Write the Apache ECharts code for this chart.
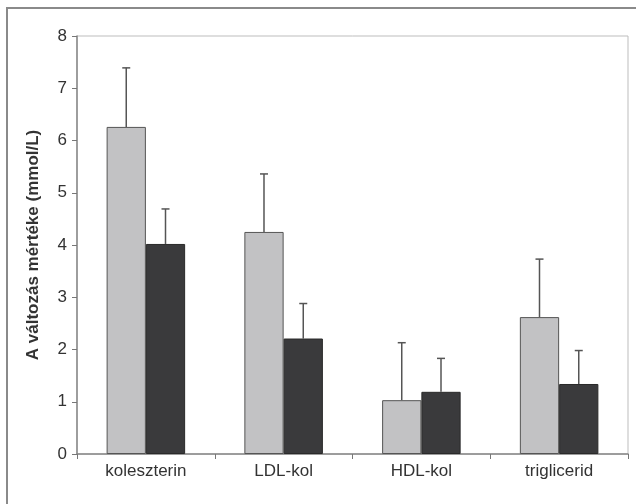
<!DOCTYPE html>
<html>
<head>
<meta charset="utf-8">
<script src="https://cdn.jsdelivr.net/npm/echarts@6/dist/echarts.min.js"></script>
<style>
  html, body { margin: 0; padding: 0; background: #fff; }
  #main { width: 636px; height: 504px; }
</style>
</head>
<body>
<div id="main"></div>
<script>
// adatok
const categories = ['koleszterin', 'LDL-kol', 'HDL-kol', 'triglicerid'];
const lightValues = [6.26, 4.25, 1.03, 2.62];
const lightErrTop = [7.39, 5.36, 2.13, 3.73];
const darkValues = [4.02, 2.21, 1.19, 1.34];
const darkErrTop = [4.69, 2.88, 1.83, 1.98];
const yTicks = [0, 1, 2, 3, 4, 5, 6, 7, 8];

const BAR_SHARE = 0.57; // a két oszlop együtt a kategória ennyi részét foglalja

function errorSeries(tops, values, side) {
  return {
    type: 'custom',
    z: 1,
    silent: true,
    data: tops.map((t, i) => [i, values[i], t]),
    renderItem: function (params, api) {
      const band = api.size([1, 0])[0];
      const off = side * band * BAR_SHARE / 4;
      const base = api.coord([api.value(0), api.value(1)]);
      const top = api.coord([api.value(0), api.value(2)]);
      const x = base[0] + off;
      const style = { stroke: '#555', lineWidth: 1.5 };
      return {
        type: 'group',
        children: [
          { type: 'line', shape: { x1: x, y1: base[1], x2: x, y2: top[1] }, style: style },
          { type: 'line', shape: { x1: x - 4, y1: top[1], x2: x + 4, y2: top[1] }, style: style }
        ]
      };
    }
  };
}

const myChart = echarts.init(document.getElementById('main'));
const option = {
  animation: false,
  textStyle: { fontFamily: 'Liberation Sans, Arial, sans-serif' },
  graphic: [
    {
      type: 'rect',
      z: -10,
      shape: { x: 7, y: 8, width: 660, height: 540 },
      style: { fill: 'none', stroke: '#8a8a8a', lineWidth: 2 }
    }
  ],
  grid: {
    left: 77, right: 8, top: 36, bottom: 50,
    show: true, borderColor: '#bdbdbd', borderWidth: 1
  },
  xAxis: {
    type: 'category',
    data: categories,
    axisLine: { lineStyle: { color: '#888', width: 1.5 } },
    axisTick: { show: true, length: 5, lineStyle: { color: '#777' } },
    axisLabel: { color: '#333', fontSize: 17, margin: 9 }
  },
  yAxis: {
    type: 'value',
    min: yTicks[0],
    max: yTicks[yTicks.length - 1],
    interval: 1,
    name: 'A változás mértéke (mmol/L)',
    nameLocation: 'middle',
    nameGap: 35,
    nameTextStyle: { fontSize: 17, fontWeight: 'bold', color: '#333' },
    axisLine: { show: true, lineStyle: { color: '#888', width: 1.5 } },
    axisTick: { show: true, length: 5, lineStyle: { color: '#777' } },
    axisLabel: { color: '#333', fontSize: 17, margin: 10 },
    splitLine: { show: false }
  },
  series: [
    {
      type: 'bar',
      data: lightValues,
      barGap: '0%',
      barCategoryGap: ((1 - BAR_SHARE) * 100) + '%',
      z: 2,
      itemStyle: { color: '#c2c2c4', borderColor: '#555', borderWidth: 1 }
    },
    {
      type: 'bar',
      data: darkValues,
      barGap: '0%',
      barCategoryGap: ((1 - BAR_SHARE) * 100) + '%',
      z: 2,
      itemStyle: { color: '#3a3a3c', borderColor: '#2a2a2a', borderWidth: 1 }
    },
    errorSeries(lightErrTop, lightValues, -1),
    errorSeries(darkErrTop, darkValues, 1)
  ]
};
myChart.setOption(option);
</script>
</body>
</html>
